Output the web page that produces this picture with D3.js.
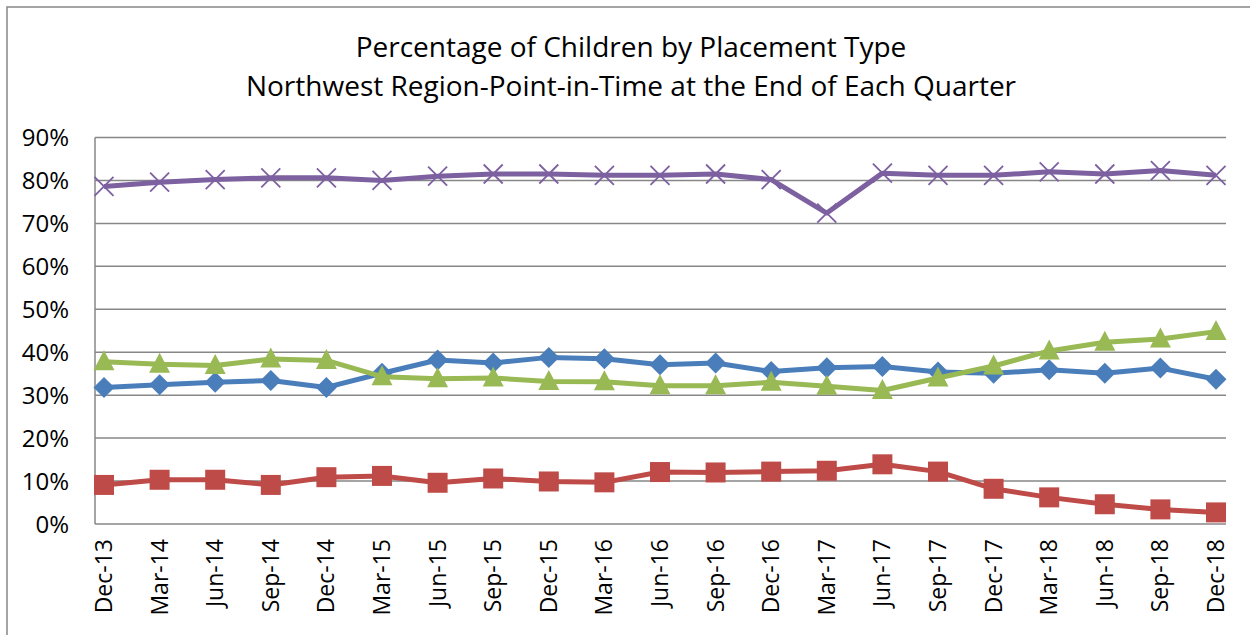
<!DOCTYPE html>
<html lang="en">
<head>
    <meta charset="UTF-8">
    <title>Percentage of Children by Placement Type</title>
    <style>
        body, html {
            margin: 0;
            padding: 0;
            background-color: #fff;
            overflow: hidden;
        }
        text {
            font-family: 'Open Sans', 'Liberation Sans', sans-serif;
            fill: #000;
        }
    </style>
</head>
<body>
<div id="chart"></div>
<script src="https://d3js.org/d3.v7.min.js"></script>
<script>
    const quarters = ["Dec-13", "Mar-14", "Jun-14", "Sep-14", "Dec-14", "Mar-15", "Jun-15",
        "Sep-15", "Dec-15", "Mar-16", "Jun-16", "Sep-16", "Dec-16", "Mar-17", "Jun-17",
        "Sep-17", "Dec-17", "Mar-18", "Jun-18", "Sep-18", "Dec-18"];

    // values in percent
    const blueSeries = [31.8, 32.4, 33.0, 33.4, 31.8, 35.1, 38.2, 37.5, 38.8, 38.5, 37.1,
        37.5, 35.5, 36.4, 36.7, 35.4, 35.1, 35.9, 35.1, 36.3, 33.7];
    const redSeries = [9.1, 10.3, 10.3, 9.1, 10.9, 11.2, 9.6, 10.6, 9.9, 9.7, 12.1,
        12.0, 12.2, 12.4, 13.9, 12.2, 8.2, 6.2, 4.6, 3.4, 2.7];
    const greenSeries = [37.8, 37.2, 36.9, 38.4, 38.1, 34.3, 33.8, 34.0, 33.2, 33.1, 32.2,
        32.2, 33.0, 32.1, 31.1, 34.0, 36.8, 40.3, 42.3, 43.1, 44.8];
    const purpleSeries = [78.6, 79.6, 80.2, 80.6, 80.6, 80.0, 81.0, 81.5, 81.5, 81.2, 81.2,
        81.5, 80.2, 72.4, 81.7, 81.2, 81.2, 82.0, 81.5, 82.3, 81.2];

    const yTicks = [0, 10, 20, 30, 40, 50, 60, 70, 80, 90];
    const titleLines = ["Percentage of Children by Placement Type",
        "Northwest Region-Point-in-Time at the End of Each Quarter"];

    const width = 1250, height = 635;
    const plot = {left: 95, right: 1226, top: 137.5, bottom: 524};

    const svg = d3.select("#chart").append("svg")
        .attr("width", width)
        .attr("height", height);

    // outer chart border (runs off the right and bottom edges)
    svg.append("rect")
        .attr("x", 7).attr("y", 7)
        .attr("width", 1260).attr("height", 640)
        .attr("fill", "none")
        .attr("stroke", "#878787")
        .attr("stroke-width", 1.5);

    const x = d3.scalePoint()
        .domain(quarters)
        .range([104, 1216]);

    const y = d3.scaleLinear()
        .domain([0, 90])
        .range([plot.bottom, plot.top]);

    // title
    svg.append("g").selectAll("text")
        .data(titleLines)
        .enter().append("text")
        .attr("x", 631)
        .attr("y", (d, i) => 57 + i * 39)
        .attr("text-anchor", "middle")
        .style("font-size", "28px")
        .text(d => d);

    // gridlines
    svg.append("g").selectAll("line")
        .data(yTicks)
        .enter().append("line")
        .attr("x1", plot.left).attr("x2", plot.right)
        .attr("y1", d => y(d)).attr("y2", d => y(d))
        .attr("stroke", "#878787")
        .attr("stroke-width", 1.5);

    // left axis line
    svg.append("line")
        .attr("x1", plot.left).attr("x2", plot.left)
        .attr("y1", plot.top).attr("y2", plot.bottom)
        .attr("stroke", "#878787")
        .attr("stroke-width", 1.5);

    // y axis labels
    svg.append("g").selectAll("text")
        .data(yTicks)
        .enter().append("text")
        .attr("x", 69)
        .attr("y", d => y(d))
        .attr("dy", "0.36em")
        .attr("text-anchor", "end")
        .style("font-size", "24px")
        .text(d => d + "%");

    // x axis labels, rotated
    svg.append("g").selectAll("text")
        .data(quarters)
        .enter().append("text")
        .attr("transform", d => `translate(${x(d) + 8},539) rotate(-90)`)
        .attr("text-anchor", "end")
        .style("font-size", "23px")
        .text(d => d);

    const series = [
        {values: blueSeries, color: "#4a7ebb", marker: "diamond"},
        {values: redSeries, color: "#be4b48", marker: "square"},
        {values: greenSeries, color: "#98b954", marker: "triangle"},
        {values: purpleSeries, color: "#7d60a0", marker: "cross"}
    ];

    const line = d3.line()
        .x((d, i) => x(quarters[i]))
        .y(d => y(d));

    series.forEach(s => {
        svg.append("path")
            .datum(s.values)
            .attr("fill", "none")
            .attr("stroke", s.color)
            .attr("stroke-width", 5)
            .attr("stroke-linejoin", "round")
            .attr("d", line);

        const g = svg.append("g");
        s.values.forEach((v, i) => {
            const cx = x(quarters[i]), cy = y(v);
            if (s.marker === "diamond") {
                g.append("path")
                    .attr("d", `M${cx},${cy - 10.5}L${cx + 10.5},${cy}L${cx},${cy + 10.5}L${cx - 10.5},${cy}Z`)
                    .attr("fill", s.color);
            } else if (s.marker === "square") {
                g.append("rect")
                    .attr("x", cx - 10).attr("y", cy - 10)
                    .attr("width", 20).attr("height", 20)
                    .attr("fill", s.color);
            } else if (s.marker === "triangle") {
                g.append("path")
                    .attr("d", `M${cx},${cy - 11.5}L${cx + 10.5},${cy + 8.5}L${cx - 10.5},${cy + 8.5}Z`)
                    .attr("fill", s.color);
            } else {
                g.append("path")
                    .attr("d", `M${cx - 9.5},${cy - 9.5}L${cx + 9.5},${cy + 9.5}M${cx - 9.5},${cy + 9.5}L${cx + 9.5},${cy - 9.5}`)
                    .attr("stroke", s.color)
                    .attr("stroke-width", 1.8);
            }
        });
    });
</script>
</body>
</html>
